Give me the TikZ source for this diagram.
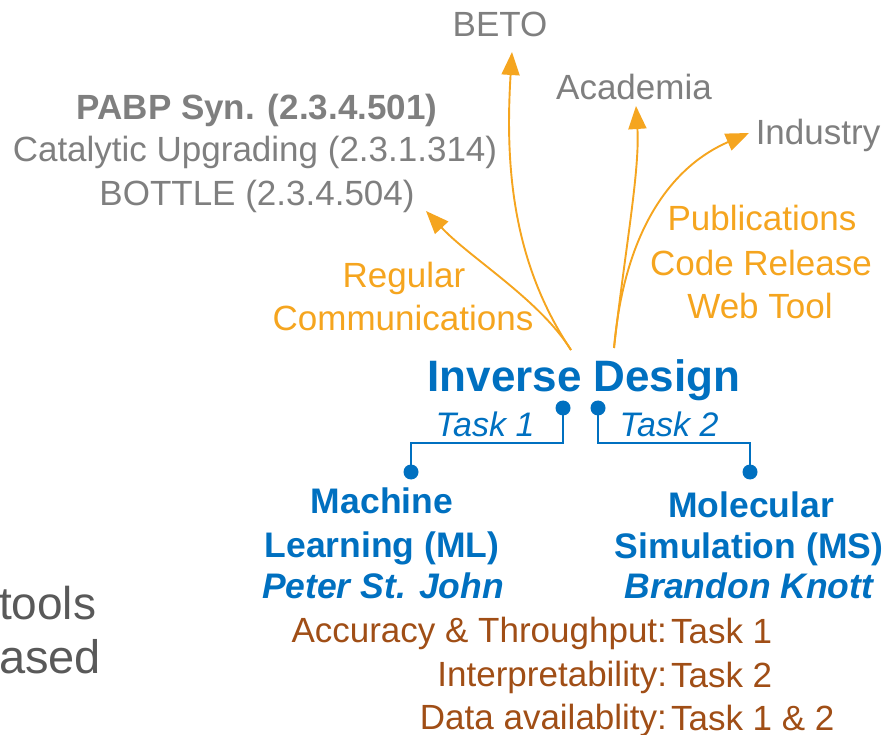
\documentclass[tikz,border=0pt]{standalone}
\usepackage{fontspec}
\setmainfont{Liberation Sans}
\usetikzlibrary{arrows.meta}
\definecolor{grayT}{HTML}{7F7F7F}
\definecolor{darkT}{HTML}{595959}
\definecolor{orangeT}{HTML}{F5A51F}
\definecolor{blueT}{HTML}{0070C0}
\definecolor{brownT}{HTML}{A04E16}
\tikzset{
  txt/.style={inner sep=0pt, outer sep=0pt, anchor=base, font=\fontsize{35}{40}\selectfont},
  graytxt/.style={txt, text=grayT},
  orangetxt/.style={txt, text=orangeT},
  bluetxt/.style={txt, text=blueT, font=\fontsize{35.5}{40}\selectfont\bfseries},
  browntxt/.style={txt, text=brownT},
  flow/.style={draw=orangeT, line width=1.9pt, -{Triangle[length=23pt,width=18pt]}},
  branch/.style={draw=blueT, line width=2pt},
  dot/.style={circle, fill=blueT, inner sep=0pt, minimum size=15pt},
}
\begin{document}
\begin{tikzpicture}[x=1pt,y=-1pt]
\useasboundingbox (0,0) rectangle (887,735);
% top labels
\node[graytxt] (beto) at (500,37) {BETO};
\node[graytxt] (acad) at (634,100) {Academia};
\node[graytxt] (ind) at (818,145) {Industry};
\node[graytxt, font=\fontsize{35}{40}\selectfont\bfseries] (pabp) at (257,120) {PABP Syn. (2.3.4.501)};
\node[graytxt] (cat) at (255,162) {Catalytic Upgrading (2.3.1.314)};
\node[graytxt] (bottle) at (257,206) {BOTTLE (2.3.4.504)};
% orange labels
\node[orangetxt] (reg) at (404,288) {Regular};
\node[orangetxt] (comm) at (403,331) {Communications};
\node[orangetxt] (pub) at (762,231) {Publications};
\node[orangetxt] (code) at (761,276) {Code Release};
\node[orangetxt] (web) at (760,319) {Web Tool};
% centre
\node[txt, text=blueT, font=\fontsize{44}{48}\selectfont\bfseries] (inv) at (584,392) {Inverse Design};
\node[dot] (d1) at (563,408) {};
\node[dot] (d2) at (598,408) {};
\node[dot] (d3) at (411,472) {};
\node[dot] (d4) at (750,472) {};
\node[txt, text=blueT, font=\fontsize{34}{38}\selectfont\itshape] (t1) at (485,437) {Task 1};
\node[txt, text=blueT, font=\fontsize{34}{38}\selectfont\itshape] (t2) at (669,437) {Task 2};
\draw[branch] (d1.center) |- (411,443) -- (d3.center);
\draw[branch] (d2.center) |- (750,443) -- (d4.center);
% branches
\node[bluetxt] (ml1) at (382,513) {Machine};
\node[bluetxt] (ml2) at (382,557) {Learning (ML)};
\node[bluetxt, font=\fontsize{35.5}{40}\selectfont\bfseries\itshape] (ml3) at (383,598) {Peter St. John};
\node[bluetxt] (ms1) at (751,517) {Molecular};
\node[bluetxt] (ms2) at (749,558) {Simulation (MS)};
\node[bluetxt, font=\fontsize{35.5}{40}\selectfont\bfseries\itshape] (ms3) at (749,598) {Brandon Knott};
% brown lines
\node[browntxt, anchor=base east] (c1) at (667,642) {Accuracy \& Throughput:};
\node[browntxt, anchor=base west] (k1) at (671,643) {Task 1};
\node[browntxt, anchor=base east] (c2) at (667,686) {Interpretability:};
\node[browntxt, anchor=base west] (k2) at (671,687) {Task 2};
\node[browntxt, anchor=base east] (c3) at (667,729) {Data availablity:};
\node[browntxt, anchor=base west] (k3) at (671,730) {Task 1 \& 2};
% left cut text
\node[txt, text=darkT, anchor=base west, font=\fontsize{46}{50}\selectfont] (tools) at (-1,619) {tools};
\node[txt, text=darkT, anchor=base west, font=\fontsize{47}{50}\selectfont] (ased) at (-1,673) {ased};
% arrows
\coordinate (s1) at (571,350);
\coordinate (s2) at (614,348);
\coordinate (tb) at (426,211);
\coordinate (tbeto) at (512,52);
\coordinate (tacad) at (636,106);
\coordinate (tind) at (749,133);
\draw[flow] (s1) .. controls (540,300) and (470,258) .. (tb);
\draw[flow] (s1) .. controls (512,262) and (505,165) .. (tbeto);
\draw[flow] (s2) .. controls (625,250) and (640,170) .. (tacad);
\draw[flow] (s2) .. controls (625,225) and (675,165) .. (tind);
\end{tikzpicture}
\end{document}
